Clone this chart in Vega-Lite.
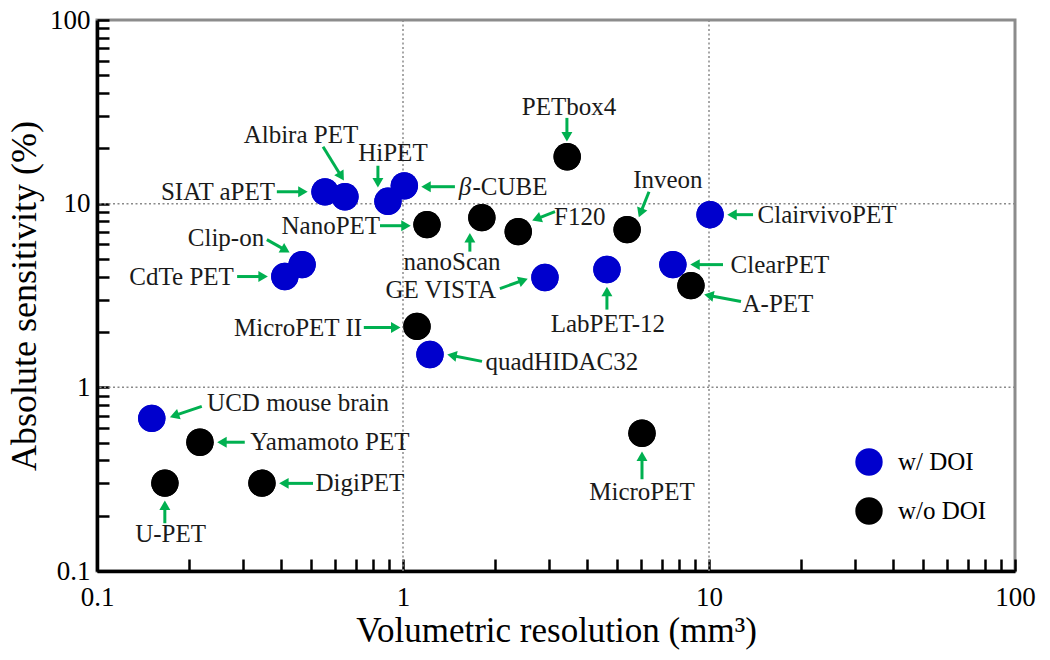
{
  "$schema": "https://vega.github.io/schema/vega-lite/v6.json",
  "width": 918,
  "height": 551,
  "autosize": {"type": "none"},
  "padding": {"left": 97, "top": 20, "right": 35, "bottom": 89},
  "background": "white",
  "config": {
    "view": {"stroke": "#8c8c8c", "strokeWidth": 3},
    "font": "Liberation Serif",
    "axis": {"grid": false}
  },
  "datasets": {
    "points": [
      {"name": "SIAT aPET", "res": 0.556, "sens": 11.6, "doi": "w/ DOI"},
      {"name": "Albira PET", "res": 0.646, "sens": 10.9, "doi": "w/ DOI"},
      {"name": "HiPET", "res": 0.893, "sens": 10.3, "doi": "w/ DOI"},
      {"name": "β-CUBE", "res": 1.01, "sens": 12.5, "doi": "w/ DOI"},
      {"name": "Clip-on", "res": 0.468, "sens": 4.66, "doi": "w/ DOI"},
      {"name": "CdTe PET", "res": 0.411, "sens": 4.01, "doi": "w/ DOI"},
      {"name": "ClairvivoPET", "res": 10.08, "sens": 8.71, "doi": "w/ DOI"},
      {"name": "ClearPET", "res": 7.62, "sens": 4.66, "doi": "w/ DOI"},
      {"name": "GE VISTA", "res": 2.91, "sens": 3.96, "doi": "w/ DOI"},
      {"name": "LabPET-12", "res": 4.64, "sens": 4.38, "doi": "w/ DOI"},
      {"name": "quadHIDAC32", "res": 1.225, "sens": 1.51, "doi": "w/ DOI"},
      {"name": "UCD mouse brain", "res": 0.151, "sens": 0.678, "doi": "w/ DOI"},
      {"name": "PETbox4", "res": 3.44, "sens": 18.0, "doi": "w/o DOI"},
      {"name": "NanoPET", "res": 1.198, "sens": 7.69, "doi": "w/o DOI"},
      {"name": "nanoScan", "res": 1.81, "sens": 8.39, "doi": "w/o DOI"},
      {"name": "F120", "res": 2.38, "sens": 7.04, "doi": "w/o DOI"},
      {"name": "Inveon", "res": 5.4, "sens": 7.22, "doi": "w/o DOI"},
      {"name": "A-PET", "res": 8.73, "sens": 3.58, "doi": "w/o DOI"},
      {"name": "MicroPET II", "res": 1.111, "sens": 2.146, "doi": "w/o DOI"},
      {"name": "MicroPET", "res": 6.04, "sens": 0.562, "doi": "w/o DOI"},
      {"name": "Yamamoto PET", "res": 0.217, "sens": 0.502, "doi": "w/o DOI"},
      {"name": "U-PET", "res": 0.1667, "sens": 0.301, "doi": "w/o DOI"},
      {"name": "DigiPET", "res": 0.346, "sens": 0.301, "doi": "w/o DOI"}
    ],
    "labels": [
      {"text": "Albira PET", "lx": 0.464, "ly": 23.71},
      {"text": "HiPET", "lx": 0.927, "ly": 18.89},
      {"text": "SIAT aPET", "lx": 0.2485, "ly": 11.61},
      {"text": "β", "lx": 1.595, "ly": 12.37},
      {"text": "-CUBE", "lx": 2.237, "ly": 12.37},
      {"text": "NanoPET", "lx": 0.581, "ly": 7.585},
      {"text": "nanoScan", "lx": 1.446, "ly": 4.83},
      {"text": "F120", "lx": 3.78, "ly": 8.48},
      {"text": "PETbox4", "lx": 3.487, "ly": 33.6},
      {"text": "Inveon", "lx": 7.34, "ly": 13.5},
      {"text": "ClairvivoPET", "lx": 24.3, "ly": 8.712},
      {"text": "ClearPET", "lx": 17.05, "ly": 4.657},
      {"text": "A-PET", "lx": 16.8, "ly": 2.825},
      {"text": "LabPET-12", "lx": 4.672, "ly": 2.2},
      {"text": "GE VISTA", "lx": 1.329, "ly": 3.407},
      {"text": "quadHIDAC32", "lx": 3.305, "ly": 1.367},
      {"text": "MicroPET II", "lx": 0.454, "ly": 2.115},
      {"text": "Clip-on", "lx": 0.264, "ly": 6.531},
      {"text": "CdTe PET", "lx": 0.189, "ly": 4.011},
      {"text": "UCD mouse brain", "lx": 0.454, "ly": 0.818},
      {"text": "Yamamoto PET", "lx": 0.577, "ly": 0.5025},
      {"text": "DigiPET", "lx": 0.723, "ly": 0.3},
      {"text": "U-PET", "lx": 0.174, "ly": 0.1589},
      {"text": "MicroPET", "lx": 6.04, "ly": 0.2687}
    ],
    "arrows": [
      {"name": "Albira PET", "ax": 0.548, "ay": 20.4, "hx": 0.629, "hy": 14.06, "dir": 148},
      {"name": "HiPET", "ax": 0.828, "ay": 16.09, "hx": 0.828, "hy": 13.0, "dir": 180},
      {"name": "SIAT aPET", "ax": 0.387, "ay": 11.61, "hx": 0.471, "hy": 11.61, "dir": 90},
      {"name": "β-CUBE", "ax": 1.478, "ay": 12.37, "hx": 1.189, "hy": 12.37, "dir": 270},
      {"name": "NanoPET", "ax": 0.841, "ay": 7.585, "hx": 1.023, "hy": 7.585, "dir": 90},
      {"name": "nanoScan", "ax": 1.654, "ay": 5.482, "hx": 1.654, "hy": 6.531, "dir": 0},
      {"name": "F120", "ax": 3.138, "ay": 9.047, "hx": 2.733, "hy": 8.261, "dir": 249},
      {"name": "PETbox4", "ax": 3.433, "ay": 29.31, "hx": 3.433, "hy": 23.12, "dir": 180},
      {"name": "Inveon", "ax": 6.367, "ay": 11.61, "hx": 5.974, "hy": 8.905, "dir": 201},
      {"name": "ClairvivoPET", "ax": 13.93, "ay": 8.712, "hx": 11.89, "hy": 8.712, "dir": 270},
      {"name": "ClearPET", "ax": 11.11, "ay": 4.657, "hx": 9.0, "hy": 4.657, "dir": 270},
      {"name": "A-PET", "ax": 12.72, "ay": 2.931, "hx": 9.99, "hy": 3.166, "dir": 281},
      {"name": "LabPET-12", "ax": 4.639, "ay": 2.65, "hx": 4.639, "hy": 3.32, "dir": 0},
      {"name": "GE VISTA", "ax": 2.073, "ay": 3.45, "hx": 2.472, "hy": 3.827, "dir": 70},
      {"name": "quadHIDAC32", "ax": 1.812, "ay": 1.385, "hx": 1.445, "hy": 1.491, "dir": 281},
      {"name": "MicroPET II", "ax": 0.7446, "ay": 2.115, "hx": 0.947, "hy": 2.115, "dir": 90},
      {"name": "Clip-on", "ax": 0.359, "ay": 6.372, "hx": 0.413, "hy": 5.588, "dir": 120},
      {"name": "CdTe PET", "ax": 0.287, "ay": 4.011, "hx": 0.349, "hy": 4.011, "dir": 90},
      {"name": "UCD mouse brain", "ax": 0.22, "ay": 0.788, "hx": 0.179, "hy": 0.701, "dir": 251},
      {"name": "Yamamoto PET", "ax": 0.304, "ay": 0.5025, "hx": 0.256, "hy": 0.5025, "dir": 270},
      {"name": "DigiPET", "ax": 0.508, "ay": 0.3, "hx": 0.408, "hy": 0.3, "dir": 270},
      {"name": "U-PET", "ax": 0.1666, "ay": 0.182, "hx": 0.1666, "hy": 0.228, "dir": 0},
      {"name": "MicroPET", "ax": 6.04, "ay": 0.316, "hx": 6.04, "hy": 0.4217, "dir": 0}
    ],
    "gridx": [{"g": 1}, {"g": 10}],
    "gridy": [{"g": 1}, {"g": 10}]
  },
  "layer": [
    {
      "data": {"name": "points"},
      "mark": {"type": "circle", "size": 750, "opacity": 1},
      "encoding": {
        "x": {
          "field": "res", "type": "quantitative",
          "scale": {"type": "log", "domain": [0.1, 100], "nice": false},
          "axis": {
            "title": "Volumetric resolution (mm³)",
            "values": [0.1, 0.2, 0.3, 0.4, 0.5, 0.6, 0.7, 0.8, 0.9, 1, 2, 3, 4, 5, 6, 7, 8, 9, 10, 20, 30, 40, 50, 60, 70, 80, 90, 100],
            "labelExpr": "abs(log(datum.value)/LN10 - round(log(datum.value)/LN10)) < 0.001 ? format(datum.value, '~g') : ''",
            "grid": false,
            "tickSize": -12, "tickWidth": 2.5, "tickColor": "black",
            "domainColor": "black", "domainWidth": 3.5,
            "labelFont": "Liberation Serif", "labelFontSize": 27, "labelColor": "black", "labelPadding": 25,
            "labelFlush": false, "labelOverlap": false,
            "titleFont": "Liberation Serif", "titleFontSize": 35, "titleFontWeight": "normal", "titleColor": "black", "titlePadding": 3
          }
        },
        "y": {
          "field": "sens", "type": "quantitative",
          "scale": {"type": "log", "domain": [0.1, 100], "nice": false},
          "axis": {
            "title": "Absolute sensitivity (%)",
            "values": [0.1, 0.2, 0.3, 0.4, 0.5, 0.6, 0.7, 0.8, 0.9, 1, 2, 3, 4, 5, 6, 7, 8, 9, 10, 20, 30, 40, 50, 60, 70, 80, 90, 100],
            "labelExpr": "abs(log(datum.value)/LN10 - round(log(datum.value)/LN10)) < 0.001 ? format(datum.value, '~g') : ''",
            "grid": false,
            "tickSize": -12, "tickWidth": 2.5, "tickColor": "black",
            "domainColor": "black", "domainWidth": 3.5,
            "labelFont": "Liberation Serif", "labelFontSize": 27, "labelColor": "black", "labelPadding": 19,
            "labelFlush": false, "labelOverlap": false,
            "titleFont": "Liberation Serif", "titleFontSize": 36, "titleFontWeight": "normal", "titleColor": "black", "titlePadding": 6
          }
        },
        "color": {
          "field": "doi", "type": "nominal",
          "scale": {"domain": ["w/ DOI", "w/o DOI"], "range": ["#0000CD", "#000000"]},
          "legend": {
            "orient": "none", "legendX": 758, "legendY": 428, "title": null,
            "symbolSize": 750, "symbolType": "circle", "symbolOpacity": 1, "symbolStrokeWidth": 0,
            "labelFont": "Liberation Serif", "labelFontSize": 25, "labelColor": "black",
            "labelOffset": 15, "rowPadding": 21, "padding": 0
          }
        }
      }
    },
    {
      "data": {"name": "gridx"},
      "mark": {"type": "rule", "color": "#8a8a8a", "strokeWidth": 1.5, "strokeDash": [2, 2.5]},
      "encoding": {
        "x": {"field": "g", "type": "quantitative", "scale": {"type": "log", "domain": [0.1, 100], "nice": false}}
      }
    },
    {
      "data": {"name": "gridy"},
      "mark": {"type": "rule", "color": "#8a8a8a", "strokeWidth": 1.5, "strokeDash": [2, 2.5]},
      "encoding": {
        "y": {"field": "g", "type": "quantitative", "scale": {"type": "log", "domain": [0.1, 100], "nice": false}}
      }
    },
    {
      "data": {"name": "arrows"},
      "mark": {"type": "rule", "color": "#00B050", "strokeWidth": 3},
      "encoding": {
        "x": {"field": "ax", "type": "quantitative", "scale": {"type": "log", "domain": [0.1, 100], "nice": false}},
        "y": {"field": "ay", "type": "quantitative", "scale": {"type": "log", "domain": [0.1, 100], "nice": false}},
        "x2": {"field": "hx"},
        "y2": {"field": "hy"}
      }
    },
    {
      "data": {"name": "arrows"},
      "mark": {"type": "point", "shape": "triangle-up", "filled": true, "color": "#00B050", "size": 120, "opacity": 1, "strokeWidth": 0},
      "encoding": {
        "x": {"field": "hx", "type": "quantitative", "scale": {"type": "log", "domain": [0.1, 100], "nice": false}},
        "y": {"field": "hy", "type": "quantitative", "scale": {"type": "log", "domain": [0.1, 100], "nice": false}},
        "angle": {"field": "dir", "type": "quantitative", "scale": null}
      }
    },
    {
      "data": {"name": "points"},
      "mark": {"type": "circle", "size": 750, "opacity": 1},
      "encoding": {
        "x": {"field": "res", "type": "quantitative", "scale": {"type": "log", "domain": [0.1, 100], "nice": false}},
        "y": {"field": "sens", "type": "quantitative", "scale": {"type": "log", "domain": [0.1, 100], "nice": false}},
        "color": {"field": "doi", "type": "nominal", "scale": {"domain": ["w/ DOI", "w/o DOI"], "range": ["#0000CD", "#000000"]}}
      }
    },
    {
      "data": {"name": "labels"},
      "transform": [{"filter": "datum.text != 'β'"}],
      "mark": {"type": "text", "font": "Liberation Serif", "fontSize": 25, "color": "#1a1a1a", "align": "center", "baseline": "middle"},
      "encoding": {
        "x": {"field": "lx", "type": "quantitative", "scale": {"type": "log", "domain": [0.1, 100], "nice": false}},
        "y": {"field": "ly", "type": "quantitative", "scale": {"type": "log", "domain": [0.1, 100], "nice": false}},
        "text": {"field": "text"}
      }
    },
    {
      "data": {"name": "labels"},
      "transform": [{"filter": "datum.text == 'β'"}],
      "mark": {"type": "text", "font": "Liberation Serif", "fontSize": 25, "fontStyle": "italic", "color": "#1a1a1a", "align": "center", "baseline": "middle"},
      "encoding": {
        "x": {"field": "lx", "type": "quantitative", "scale": {"type": "log", "domain": [0.1, 100], "nice": false}},
        "y": {"field": "ly", "type": "quantitative", "scale": {"type": "log", "domain": [0.1, 100], "nice": false}},
        "text": {"field": "text"}
      }
    }
  ]
}
